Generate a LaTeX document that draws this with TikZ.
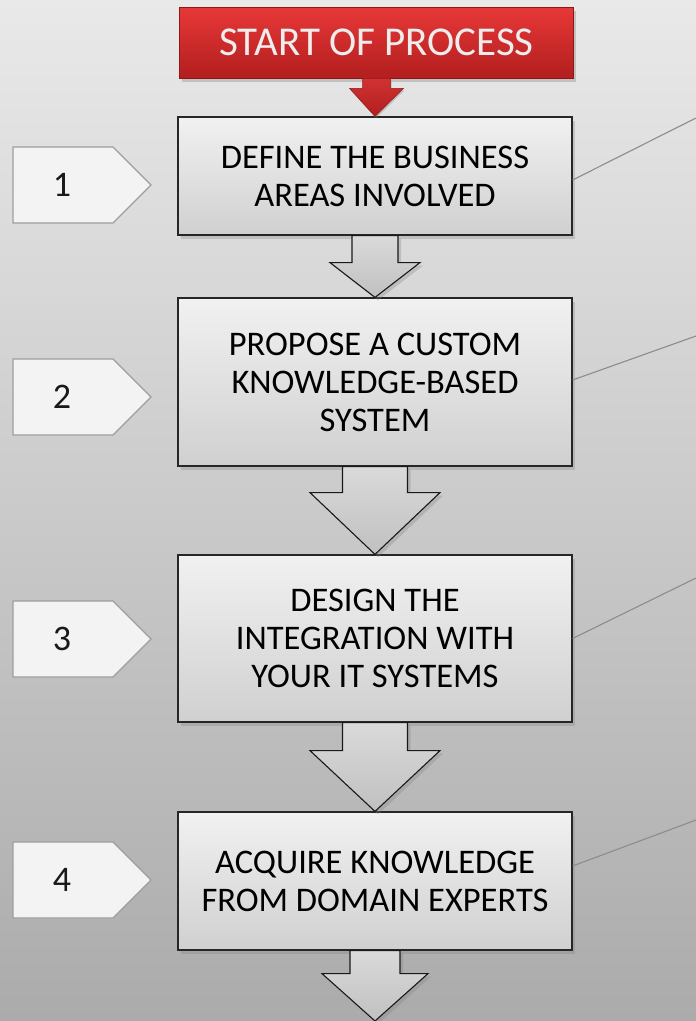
\documentclass[tikz,border=0pt]{standalone}
\usepackage{fontspec}
\setmainfont{Carlito}
\usetikzlibrary{calc,shadows}

\definecolor{bgtop}{HTML}{E9E9E9}
\definecolor{bgbot}{HTML}{ABABAB}
\definecolor{boxtop}{HTML}{F1F1F1}
\definecolor{boxbot}{HTML}{D0D0D0}
\definecolor{arrtop}{HTML}{DADADA}
\definecolor{arrbot}{HTML}{C0C0C0}
\definecolor{redtop}{HTML}{E83838}
\definecolor{redbot}{HTML}{B21E1E}
\definecolor{tagfill}{HTML}{F3F3F3}

\begin{document}
\begin{tikzpicture}[x=1pt,y=-1pt,
  startbox/.style={draw=redbot!80!black, line width=0.6pt, top color=redtop, bottom color=redbot,
    minimum width=394pt, minimum height=71pt, inner sep=0pt, text=black!7,
    font=\fontsize{41}{46}\selectfont,
    drop shadow={shadow xshift=2pt, shadow yshift=-4pt, opacity=0.35}},
  stepbox/.style={draw=black!85, line width=1.2pt, top color=boxtop, bottom color=boxbot,
    minimum width=394pt, inner sep=0pt, align=center, text=black,
    font=\fontsize{34.5}{38}\selectfont,
    drop shadow={shadow xshift=3pt, shadow yshift=-4pt, opacity=0.3}},
  flowarrow/.style={draw=black!90, line width=1.1pt, top color=arrtop, bottom color=arrbot,
    drop shadow={shadow xshift=3pt, shadow yshift=-3pt, opacity=0.3}},
  redarrow/.style={draw=redbot!85!black, line width=0.5pt, top color=redtop!90!black, bottom color=redbot,
    drop shadow={shadow xshift=1pt, shadow yshift=-2pt, opacity=0.35}},
  tagshape/.style={draw=black!38, line width=1.2pt, fill=tagfill},
  tagnum/.style={text=black!90, font=\fontsize{36}{40}\selectfont},
  sideline/.style={draw=black!45, line width=1.1pt}]

% Background
\useasboundingbox (0,0) rectangle (696,1021);
\shade [top color=bgtop, bottom color=bgbot] (0,0) rectangle (696,1021);

% Start of process
\node [startbox] (start) at (376.5,42.5) {START OF PROCESS};

% Steps
\node [stepbox, minimum height=118pt] (b1) at (375,176) {DEFINE THE BUSINESS\\AREAS INVOLVED};
\node [stepbox, minimum height=168pt] (b2) at (375,382) {PROPOSE A CUSTOM\\KNOWLEDGE-BASED\\SYSTEM};
\node [stepbox, minimum height=167pt] (b3) at (375,638.5) {DESIGN THE\\INTEGRATION WITH\\YOUR IT SYSTEMS};
\node [stepbox, minimum height=138pt] (b4) at (375,881) {ACQUIRE KNOWLEDGE\\FROM DOMAIN EXPERTS};
\coordinate (end) at (375,1021);

% Red arrow
\draw [redarrow] ($(start.south)+(-14,0)$) -- ++(0,10) -- ++(-13,0) -- (b1.north)
  -- ($(start.south)+(27,10)$) -- ++(-13,0) -- ++(0,-10) -- cycle;

% Block arrows
\draw [flowarrow] ($(b1.south)+(-23,0)$) -- ++(0,27) -- ++(-22,0) -- (b2.north)
  -- ($(b1.south)+(45,27)$) -- ++(-22,0) -- ++(0,-27) -- cycle;
\draw [flowarrow] ($(b2.south)+(-32.5,0)$) -- ++(0,26) -- ++(-32.5,0) -- (b3.north)
  -- ($(b2.south)+(65,26)$) -- ++(-32.5,0) -- ++(0,-26) -- cycle;
\draw [flowarrow] ($(b3.south)+(-32.5,0)$) -- ++(0,28) -- ++(-32.5,0) -- (b4.north)
  -- ($(b3.south)+(65,28)$) -- ++(-32.5,0) -- ++(0,-28) -- cycle;
\draw [flowarrow] ($(b4.south)+(-25,0)$) -- ++(0,23) -- ++(-28,0) -- (end)
  -- ($(b4.south)+(53,23)$) -- ++(-28,0) -- ++(0,-23) -- cycle;

% Number tags
\draw [tagshape] (13,147) -- (113,147) -- (151,185) -- (113,223) -- (13,223) -- cycle;
\node [tagnum] (n1) at (62,185) {1};
\draw [tagshape] (13,359) -- (113,359) -- (151,397) -- (113,435) -- (13,435) -- cycle;
\node [tagnum] (n2) at (62,397) {2};
\draw [tagshape] (13,601) -- (113,601) -- (151,639) -- (113,677) -- (13,677) -- cycle;
\node [tagnum] (n3) at (62,639) {3};
\draw [tagshape] (13,842) -- (113,842) -- (151,880) -- (113,918) -- (13,918) -- cycle;
\node [tagnum] (n4) at (62,880) {4};

% Lines off to the right
\coordinate (r1) at (696,118);
\coordinate (r2) at (696,336);
\coordinate (r3) at (696,578);
\coordinate (r4) at (696,820);
\draw [sideline] ($(b1.east)+(0,4)$) -- (r1);
\draw [sideline] ($(b2.east)+(0,-2)$) -- (r2);
\draw [sideline] (b3.east) -- (r3);
\draw [sideline] ($(b4.east)+(0,-15)$) -- (r4);

\end{tikzpicture}
\end{document}
